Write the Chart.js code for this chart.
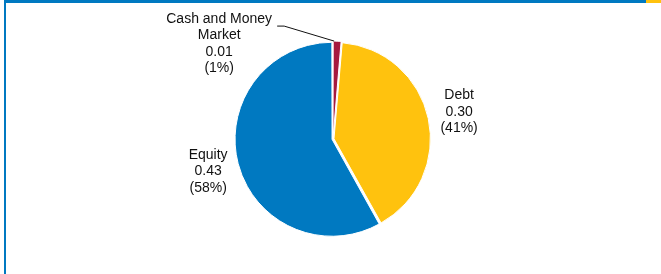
<!DOCTYPE html>
<html>
<head>
<meta charset="utf-8">
<script src="https://cdn.jsdelivr.net/npm/chart.js@4/dist/chart.umd.min.js"></script>
<style>
  html, body { margin: 0; padding: 0; background: #fff; }
  #wrap { position: relative; width: 661px; height: 274px; overflow: hidden; }
  #topBlue { position: absolute; left: 4px; top: 0; width: 642px; height: 3px; background: #0079c1; }
  #topYellow { position: absolute; left: 646px; top: 0; width: 15px; height: 3px; background: #ffc20e; }
  #leftBar { position: absolute; left: 4px; top: 0; width: 2px; height: 274px; background: #0079c1; }
  canvas { position: absolute; left: 0; top: 0; }
</style>
</head>
<body>
<div id="wrap">
  <canvas id="myChart" width="661" height="274"></canvas>
  <div id="topBlue"></div>
  <div id="topYellow"></div>
  <div id="leftBar"></div>
</div>
<script>
const categories = ['Cash and Money Market', 'Debt', 'Equity'];
const labelLines = [['Cash and Money', 'Market'], ['Debt'], ['Equity']];
const values = [0.01, 0.30, 0.43];
const valueLabels = ['0.01', '0.30', '0.43'];
const percentLabels = ['(1%)', '(41%)', '(58%)'];
const colors = ['#a6193e', '#ffc20e', '#0079c1'];

// etiquetas fuera del grafico
const outsideLabels = {
    id: 'outsideLabels',
    afterDraw(chart) {
        const ctx = chart.ctx;
        const meta = chart.getDatasetMeta(0);
        ctx.save();
        ctx.font = '14px "Liberation Sans", Arial, sans-serif';
        ctx.fillStyle = '#111111';
        ctx.textAlign = 'center';
        ctx.textBaseline = 'middle';
        const lh = 16.5;
        meta.data.forEach((arc, i) => {
            const mid = (arc.startAngle + arc.endAngle) / 2;
            const lines = [...labelLines[i], valueLabels[i], percentLabels[i]];
            let cx, cy;
            if (arc.endAngle - arc.startAngle < 0.2) {
                // rebanada chica: linea guia
                const r = arc.outerRadius + 2;
                const ex = arc.x + Math.cos(mid) * r - 3;
                const ey = arc.y + Math.sin(mid) * r;
                const bx = ex - 50, by = ey - 15;
                ctx.strokeStyle = '#111111';
                ctx.lineWidth = 1;
                ctx.beginPath();
                ctx.moveTo(ex, ey);
                ctx.lineTo(bx, by);
                ctx.lineTo(bx - 7, by);
                ctx.stroke();
                cx = bx - 65;
                cy = by - 7 + lh * (lines.length - 1) / 2;
            } else {
                const r = arc.outerRadius + 33;
                cx = arc.x + Math.cos(mid) * r;
                cy = arc.y + Math.sin(mid) * r;
            }
            const top = cy - lh * (lines.length - 1) / 2;
            lines.forEach((t, j) => ctx.fillText(t, cx, top + j * lh));
        });
        ctx.restore();
    }
};

new Chart(document.getElementById('myChart'), {
    type: 'pie',
    data: {
        labels: categories,
        datasets: [{
            data: values,
            backgroundColor: colors,
            borderColor: '#ffffff',
            borderWidth: 1,
            offset: 4,
            radius: 96
        }]
    },
    options: {
        responsive: false,
        animation: false,
        layout: { padding: { left: 5, right: 0, top: 4, bottom: 0 } },
        plugins: {
            legend: { display: false },
            tooltip: { enabled: false }
        }
    },
    plugins: [outsideLabels]
});
</script>
</body>
</html>
